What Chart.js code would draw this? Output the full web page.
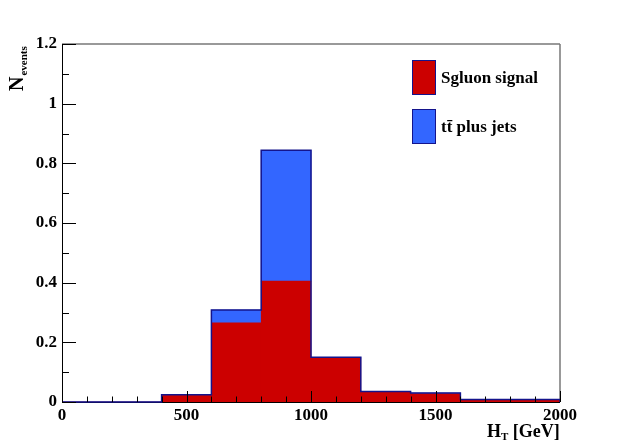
<!DOCTYPE html>
<html>
<head>
<meta charset="utf-8">
<script src="https://cdn.jsdelivr.net/npm/chart.js@4.4.1/dist/chart.umd.min.js"></script>
<style>
  html, body { margin: 0; padding: 0; background: #fff; }
  #wrap { width: 623px; height: 447px; }
</style>
</head>
<body>
<div id="wrap"><canvas id="myChart" width="623" height="447"></canvas></div>
<script>
// histogram bins in H_T [GeV], 200 GeV wide
var binLow = [0, 200, 400, 600, 800, 1000, 1200, 1400, 1600, 1800];
var binHigh = 2000;
// stacked contents (events per bin)
var sgluonSignal = [0, 0, 0.022, 0.265, 0.405, 0.147, 0.033, 0.028, 0.006, 0.006];
var ttbarJets = [0, 0, 0.002, 0.043, 0.439, 0.003, 0.002, 0.002, 0.002, 0.002];
var seriesNames = ["Sgluon signal", "t\u0074\u0304 plus jets"];
var xTicks = [0, 500, 1000, 1500, 2000];
var yTicks = [0, 0.2, 0.4, 0.6, 0.8, 1, 1.2];

var red = "#cc0000";
var blue = "#3366ff";
var navy = "#14148c";
var serif = "'Liberation Serif', 'Times New Roman', serif";

var binWidth = binLow[1] - binLow[0];
var redPts = [], bluePts = [], outline = [];
for (var i = 0; i < binLow.length; i++) {
    var c = binLow[i] + binWidth / 2;
    redPts.push({ x: c, y: sgluonSignal[i] });
    bluePts.push({ x: c, y: ttbarJets[i] });
    outline.push({ x: binLow[i], y: sgluonSignal[i] + ttbarJets[i] });
}
var last = binLow.length - 1;
outline.push({ x: binHigh, y: sgluonSignal[last] + ttbarJets[last] });
outline.push({ x: binHigh, y: 0 });

function line(ctx, x1, y1, x2, y2) {
    ctx.beginPath();
    ctx.moveTo(x1, y1);
    ctx.lineTo(x2, y2);
    ctx.stroke();
}

// ROOT style frame, inward ticks, axis titles and legend
var rootStyle = {
    id: "rootStyle",
    beforeDatasetsDraw: function (chart) {
        var ctx = chart.ctx, a = chart.chartArea;
        ctx.save();
        ctx.strokeStyle = "#777";
        ctx.lineWidth = 1.5;
        line(ctx, a.left, a.top, a.right, a.top);
        line(ctx, a.right, a.top, a.right, a.bottom);
        ctx.strokeStyle = "#000";
        ctx.lineWidth = 1;
        line(ctx, a.left + 0.5, a.top, a.left + 0.5, a.bottom);
        line(ctx, a.left, a.bottom + 0.5, a.right, a.bottom + 0.5);
        ctx.restore();
    },
    afterDatasetsDraw: function (chart) {
        var ctx = chart.ctx, a = chart.chartArea;
        var xs = chart.scales.x, ys = chart.scales.y;
        ctx.save();
        ctx.strokeStyle = "#000";
        ctx.lineWidth = 1;
        for (var v = xs.min; v <= xs.max; v += 100) {
            var px = Math.round(xs.getPixelForValue(v)) + 0.5;
            var len = (v % 500 === 0) ? 11 : 5.5;
            line(ctx, px, a.bottom, px, a.bottom - len);
        }
        for (var k = 0; k <= 12; k++) {
            var py = Math.round(ys.getPixelForValue(k / 10)) + 0.5;
            var l2 = (k % 2 === 0) ? 14 : 7;
            line(ctx, a.left, py, a.left + l2, py);
        }

        // y title: N_events
        ctx.fillStyle = "#000";
        ctx.save();
        ctx.translate(23, 91);
        ctx.rotate(-Math.PI / 2);
        ctx.textAlign = "left";
        ctx.textBaseline = "alphabetic";
        ctx.font = "bold 20px " + serif;
        ctx.fillText("N", 0, 0);
        var nw = ctx.measureText("N").width;
        ctx.font = "bold 11px " + serif;
        ctx.fillText("events", nw + 1, 4);
        ctx.restore();

        // x title: H_T [GeV]
        ctx.textBaseline = "alphabetic";
        ctx.textAlign = "left";
        ctx.font = "bold 18px " + serif;
        var hx = 487, hy = 437;
        ctx.fillText("H", hx, hy);
        var hw = ctx.measureText("H").width;
        ctx.font = "bold 11px " + serif;
        ctx.fillText("T", hx + hw, hy + 3);
        var tw = ctx.measureText("T").width;
        ctx.font = "bold 18px " + serif;
        ctx.fillText(" [GeV]", hx + hw + tw, hy);

        // legend
        var cols = [red, blue];
        var boxTop = [60, 109];
        for (var j = 0; j < seriesNames.length; j++) {
            ctx.fillStyle = cols[j];
            ctx.fillRect(412, boxTop[j], 24, 35);
            ctx.strokeStyle = navy;
            ctx.lineWidth = 1;
            ctx.strokeRect(412.5, boxTop[j] + 0.5, 23, 34);
            ctx.fillStyle = "#000";
            ctx.font = "bold 17px " + serif;
            ctx.fillText(seriesNames[j], 441, boxTop[j] + 23);
        }
        ctx.restore();
    }
};

new Chart("myChart", {
    type: "bar",
    data: {
        datasets: [{
            label: seriesNames[0],
            data: redPts,
            backgroundColor: red,
            borderWidth: 0,
            barPercentage: 1,
            categoryPercentage: 1,
            order: 1
        }, {
            label: seriesNames[1],
            data: bluePts,
            backgroundColor: blue,
            borderWidth: 0,
            barPercentage: 1,
            categoryPercentage: 1,
            order: 1
        }, {
            type: "line",
            label: "outline",
            data: outline,
            stack: "outline",
            stepped: "before",
            borderColor: navy,
            borderWidth: 1.5,
            pointRadius: 0,
            fill: false,
            clip: false,
            order: 0
        }]
    },
    options: {
        responsive: false,
        animation: false,
        layout: { padding: { left: 0, top: 44, right: 63, bottom: 0 } },
        plugins: {
            legend: { display: false },
            title: { display: false },
            tooltip: { enabled: false }
        },
        scales: {
            x: {
                type: "linear",
                stacked: true,
                offset: false,
                min: 0,
                max: binHigh,
                border: { display: false },
                grid: { display: false, drawTicks: false, offset: false },
                afterBuildTicks: function (s) { s.ticks = xTicks.map(function (v) { return { value: v }; }); },
                afterFit: function (s) { s.height = 45; },
                ticks: {
                    padding: 3,
                    maxRotation: 0,
                    autoSkip: false,
                    color: "#000",
                    font: { family: serif, size: 17, weight: "bold" },
                    callback: function (v) { return String(v); }
                }
            },
            y: {
                stacked: true,
                min: 0,
                max: 1.2,
                border: { display: false },
                grid: { display: false, drawTicks: false },
                afterBuildTicks: function (s) { s.ticks = yTicks.map(function (v) { return { value: v }; }); },
                afterFit: function (s) { s.width = 62; },
                ticks: {
                    padding: 5,
                    color: "#000",
                    font: { family: serif, size: 17, weight: "bold" },
                    callback: function (v) { return String(Math.round(v * 10) / 10); }
                }
            }
        }
    },
    plugins: [rootStyle]
});
</script>
</body>
</html>
